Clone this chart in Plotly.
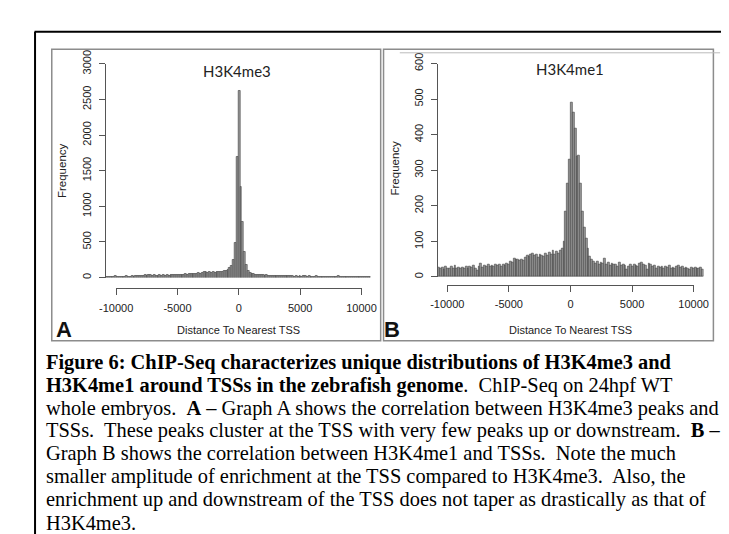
import numpy as np
import plotly.graph_objects as go

# ---------------- data ----------------
BIN_START = -10800
BIN_WIDTH = 150

# H3K4me3 frequencies, bins from -10800 to 0 (left) and 0 to 10800 (right)
h3k4me3_left = [18, 15, 17, 14, 16, 19, 15, 17, 14, 18, 16, 20, 15, 18, 22, 17, 24, 19,
                26, 22, 28, 34, 30, 40, 33, 29, 35, 31, 27, 33, 30, 34, 29, 36, 32, 38,
                35, 40, 37, 42, 39, 45, 43, 48, 46, 52, 49, 55, 58, 54, 62, 60, 66, 78,
                85, 74, 80, 72, 76, 70, 82, 75, 88, 79, 92, 98, 115, 138, 172, 252, 488, 1690]
h3k4me3_right = [2620, 1270, 780, 365, 180, 92, 68, 55, 48, 44, 40, 38, 35, 36, 31, 33, 28, 30,
                 26, 28, 25, 27, 23, 25, 22, 24, 20, 23, 19, 21, 18, 22, 17, 20, 16, 19,
                 22, 17, 20, 15, 18, 16, 19, 15, 17, 14, 18, 16, 13, 17, 15, 18, 14, 16,
                 21, 15, 17, 14, 16, 13, 15, 17, 14, 16, 13, 15, 12, 14, 16, 13, 15, 12]

# H3K4me1 frequencies
h3k4me1_left = [27, 24, 26, 22, 28, 25, 23, 29, 25, 32, 24, 27, 23, 26, 25, 28, 24, 30,
                27, 33, 25, 17, 29, 38, 26, 31, 28, 34, 30, 33, 29, 35, 31, 34, 30, 36,
                33, 38, 35, 43, 40, 52, 48, 50, 46, 49, 45, 55, 61, 57, 63, 67, 60, 64,
                56, 62, 61, 58, 66, 60, 70, 64, 75, 62, 72, 66, 75, 80, 100, 183, 262, 330]
h3k4me1_right = [490, 463, 418, 338, 342, 262, 185, 140, 108, 80, 58, 50, 42, 38, 44, 35, 40, 37,
                 52, 36, 40, 33, 38, 34, 36, 30, 40, 31, 35, 33, 20, 30, 34, 28, 36, 32,
                 30, 38, 40, 35, 33, 22, 38, 34, 30, 33, 25, 28, 26, 30, 24, 28, 26, 31,
                 25, 27, 24, 30, 33, 26, 29, 24, 27, 25, 22, 26, 24, 27, 23, 25, 26, 20]

x_ticks = [-10000, -5000, 0, 5000, 10000]
y_ticks_a = [0, 500, 1000, 1500, 2000, 2500, 3000]
y_ticks_b = [0, 100, 200, 300, 400, 500, 600]

titles = ["H3K4me3", "H3K4me1"]
panel_letters = ["A", "B"]
x_label = "Distance To Nearest TSS"
y_label = "Frequency"

caption_lines = [
    "<b>Figure 6: ChIP-Seq characterizes unique distributions of H3K4me3 and</b>",
    "<b>H3K4me1 around TSSs in the zebrafish genome</b>.&nbsp; ChIP-Seq on 24hpf WT",
    "whole embryos.&nbsp; <b>A</b> – Graph A shows the correlation between H3K4me3 peaks and",
    "TSSs.&nbsp; These peaks cluster at the TSS with very few peaks up or downstream.&nbsp; <b>B</b> –",
    "Graph B shows the correlation between H3K4me1 and TSSs.&nbsp; Note the much",
    "smaller amplitude of enrichment at the TSS compared to H3K4me3.&nbsp; Also, the",
    "enrichment up and downstream of the TSS does not taper as drastically as that of",
    "H3K4me3.",
]

# ---------------- layout helpers ----------------
W, H = 729, 534
def fx(p):
    return p / W
def fy(p):
    return 1 - p / H

vals_a = h3k4me3_left + h3k4me3_right
vals_b = h3k4me1_left + h3k4me1_right
n = len(vals_a)
centers = BIN_START + BIN_WIDTH * (np.arange(n) + 0.5)
x_lo = BIN_START
x_hi = BIN_START + BIN_WIDTH * n

fig = go.Figure()
bar_style = dict(marker=dict(color="#9b9b9b", line=dict(color="#3a3a3a", width=0.6)),
                 width=BIN_WIDTH, showlegend=False, hoverinfo="x+y")
fig.add_trace(go.Bar(x=centers, y=vals_a, xaxis="x", yaxis="y", **bar_style))
fig.add_trace(go.Bar(x=centers, y=vals_b, xaxis="x2", yaxis="y2", **bar_style))
# carriers for the R-style display x axes
fig.add_trace(go.Scatter(x=[], y=[], xaxis="x3", yaxis="y", showlegend=False))
fig.add_trace(go.Scatter(x=[], y=[], xaxis="x4", yaxis="y2", showlegend=False))

tick_font = dict(family="Liberation Sans, Arial", size=11, color="#222")
axis_common = dict(showline=True, linecolor="#555", linewidth=1, ticks="outside",
                   ticklen=6, tickcolor="#555", tickfont=tick_font, showgrid=False,
                   zeroline=False, fixedrange=True)

panels = [
    dict(xl=84.2, xr=361.8, y0=263.0, yt=43.0, xa=274.0, t0=95.3, t1=352.0, yticks=y_ticks_a,
         box=(28, 28, 372, 328), title_x=222, title_y=50, ylab_x=38, ylab_y=153,
         letter_x=41, xlab_x=223),
    dict(xl=431.6, xr=709.8, y0=262.3, yt=42.7, xa=270.7, t0=441.7, t1=699.3, yticks=y_ticks_b,
         box=(375, 28, 720, 328), title_x=570, title_y=48, ylab_x=386.7, ylab_y=150,
         letter_x=384, xlab_x=571),
]

def note(text, x, y, size, family="Liberation Sans, Arial", color="#222", angle=0):
    fig.add_annotation(text=text, x=fx(x), y=fy(y), xref="paper", yref="paper",
                       xanchor="center", yanchor="middle", showarrow=False,
                       textangle=angle, font=dict(family=family, size=size, color=color))

for i, p in enumerate(panels):
    xs = "" if i == 0 else "2"
    disp = str(3 + i)
    fig.layout["xaxis" + xs] = dict(domain=[fx(p["xl"]), fx(p["xr"])], range=[x_lo, x_hi],
                                    visible=False, anchor="y" + xs, fixedrange=True)
    fig.layout["yaxis" + xs] = dict(domain=[fy(p["y0"]), fy(p["yt"])],
                                    range=[p["yticks"][0], p["yticks"][-1]],
                                    anchor="x" + xs, tickvals=p["yticks"],
                                    ticktext=[str(v) for v in p["yticks"]], tickangle=-90,
                                    ticklabelstandoff=3, **axis_common)
    fig.layout["xaxis" + disp] = dict(domain=[fx(p["t0"]), fx(p["t1"])],
                                      range=[x_ticks[0], x_ticks[-1]], anchor="free",
                                      position=fy(p["xa"]), tickvals=x_ticks,
                                      ticktext=[str(v) for v in x_ticks],
                                      ticklabelstandoff=3, **axis_common)
    x0, y0, x1, y1 = p["box"]
    fig.add_shape(type="rect", xref="paper", yref="paper", x0=fx(x0), x1=fx(x1),
                  y0=fy(y0), y1=fy(y1), line=dict(color="#8c8c8c", width=1.5))
    note(titles[i], p["title_x"], p["title_y"], 15, family="Lato")
    note(y_label, p["ylab_x"], p["ylab_y"], 11.5, angle=-90)
    note(x_label, p["xlab_x"], 317, 11)
    note("<b>" + panel_letters[i] + "</b>", p["letter_x"], 316.5, 22, color="#111")

# thin extra line on top of panel B
fig.add_shape(type="line", xref="paper", yref="paper", x0=fx(392), x1=fx(727),
              y0=fy(31.7), y1=fy(31.7), line=dict(color="#bbbbbb", width=1))
# page frame (top and left)
fig.add_shape(type="line", xref="paper", yref="paper", x0=fx(10), x1=1.0,
              y0=fy(10), y1=fy(10), line=dict(color="#000", width=2))
fig.add_shape(type="line", xref="paper", yref="paper", x0=fx(10.5), x1=fx(10.5),
              y0=fy(10), y1=0, line=dict(color="#000", width=2))

# caption
first_baseline = 357.0
line_step = 23.6
for k, line in enumerate(caption_lines):
    fig.add_annotation(text=line, x=fx(20), y=fy(first_baseline + k * line_step - 7),
                       xref="paper", yref="paper", xanchor="left", yanchor="middle",
                       showarrow=False, align="left",
                       font=dict(family="Liberation Serif, Times New Roman", size=20.4,
                                 color="#000"))

fig.update_layout(width=W, height=H, margin=dict(l=0, r=0, t=0, b=0),
                  paper_bgcolor="white", plot_bgcolor="rgba(0,0,0,0)", bargap=0,
                  showlegend=False)

fig.write_html("out.html")
